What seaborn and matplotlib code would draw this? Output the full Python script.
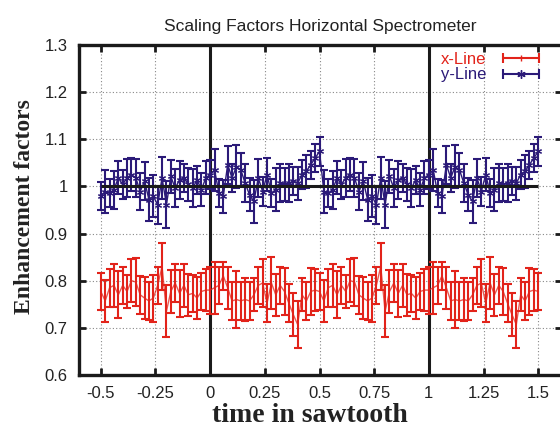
import numpy as np
import pandas as pd
import matplotlib
matplotlib.use("Agg")
import matplotlib.pyplot as plt
from matplotlib.lines import Line2D
from matplotlib.legend_handler import HandlerLine2D, HandlerTuple
from matplotlib.ticker import FormatStrFormatter, MultipleLocator
import seaborn as sns

# time in sawtooth, step 0.02 from -0.5 to 1.5
time = np.round(np.arange(101) * 0.02 - 0.5, 2)

# one sawtooth period (t = 0.00 ... 0.98), the chart repeats it
y_period = [1.025, 1.035, 0.986, 0.979, 1.046, 1.018, 1.042, 1.035, 1.007, 0.982,
            0.968, 1.018, 0.989, 1.025, 0.986, 0.993, 1.007, 1.004, 1.007, 1.011,
            1.007, 1.025, 1.032, 1.046, 1.060, 1.074, 0.989, 0.986, 0.993, 1.018,
            1.004, 1.018, 1.025, 1.018, 0.989, 1.011, 0.972, 0.979, 0.961, 1.018,
            0.961, 1.021, 0.996, 1.014, 1.018, 1.004, 0.996, 1.014, 0.993, 1.018]
y_err_period = [0.030, 0.045, 0.030, 0.035, 0.040, 0.030, 0.045, 0.035, 0.040, 0.035,
                0.045, 0.040, 0.030, 0.035, 0.030, 0.045, 0.040, 0.035, 0.040, 0.030,
                0.035, 0.030, 0.035, 0.030, 0.030, 0.030, 0.045, 0.030, 0.040, 0.035,
                0.030, 0.040, 0.035, 0.040, 0.040, 0.040, 0.045, 0.045, 0.040, 0.045,
                0.050, 0.035, 0.040, 0.040, 0.030, 0.035, 0.040, 0.030, 0.035, 0.035]
x_period = [0.780, 0.785, 0.790, 0.810, 0.785, 0.757, 0.760, 0.757, 0.760, 0.757,
            0.770, 0.790, 0.795, 0.752, 0.795, 0.770, 0.790, 0.777, 0.752, 0.728,
            0.707, 0.770, 0.757, 0.777, 0.780, 0.777, 0.757, 0.785, 0.790, 0.770,
            0.790, 0.777, 0.800, 0.797, 0.770, 0.763, 0.757, 0.763, 0.790, 0.830,
            0.735, 0.777, 0.795, 0.773, 0.790, 0.770, 0.773, 0.763, 0.777, 0.780]
x_err_period = [0.050, 0.055, 0.040, 0.030, 0.045, 0.040, 0.060, 0.040, 0.045, 0.040,
                0.035, 0.040, 0.050, 0.040, 0.055, 0.045, 0.040, 0.050, 0.040, 0.045,
                0.050, 0.035, 0.040, 0.050, 0.045, 0.040, 0.045, 0.040, 0.045, 0.050,
                0.040, 0.035, 0.045, 0.050, 0.040, 0.045, 0.040, 0.050, 0.040, 0.050,
                0.055, 0.045, 0.040, 0.050, 0.045, 0.045, 0.040, 0.045, 0.040, 0.045]


def unfold(period):
    period = list(period)
    return period[25:] + period + period[:26]


y_line = unfold(y_period)
y_line[0] = 0.980
y_err = unfold(y_err_period)
x_line = unfold(x_period)
x_err = unfold(x_err_period)

df = pd.DataFrame({"time": time, "x-Line": x_line, "y-Line": y_line})

red = "#e2231a"
blue = "#2b1a78"
star = (6, 2, 0)

sns.set_style("ticks")
plt.rcParams["font.family"] = ["Liberation Sans", "DejaVu Sans"]
plt.rcParams["axes.unicode_minus"] = False

fig = plt.figure(figsize=(5.6, 4.28), dpi=100)
ax = fig.add_axes([0.141, 0.124, 0.863, 0.771])

ax.grid(True, color="#888888", linestyle=(0, (1, 2)), linewidth=0.8)
ax.set_axisbelow(True)

# reference lines
ax.axvline(0, color="#1a1a1a", lw=2.2, zorder=1)
ax.axvline(1, color="#1a1a1a", lw=2.2, zorder=1)
ax.hlines(1.0, -0.5, 1.5, color="#1a1a1a", lw=2.2, zorder=3)

sns.lineplot(data=df, x="time", y="x-Line", ax=ax, color=red, lw=1.0, alpha=0.75,
             zorder=2, legend=False)
sns.lineplot(data=df, x="time", y="y-Line", ax=ax, color=blue, lw=1.0, marker=star,
             markersize=5, markeredgecolor=blue, markeredgewidth=0.8, zorder=2, legend=False)
ax.errorbar(df["time"], df["x-Line"], yerr=x_err, fmt="none", ecolor=red,
            elinewidth=1.5, capsize=3, capthick=1.5, zorder=2)
ax.errorbar(df["time"], df["y-Line"], yerr=y_err, fmt="none", ecolor=blue,
            elinewidth=1.5, capsize=3, capthick=1.5, zorder=2)

ax.set_xlim(-0.6, 1.61)
ax.set_ylim(0.6, 1.3)
ax.xaxis.set_major_locator(MultipleLocator(0.25))
ax.yaxis.set_major_locator(MultipleLocator(0.1))
ax.xaxis.set_major_formatter(FormatStrFormatter("%g"))
ax.yaxis.set_major_formatter(FormatStrFormatter("%g"))
ax.tick_params(direction="in", length=5, width=2, labelsize=12, pad=8,
               top=True, right=True, colors="#1a1a1a", labelcolor="#222222")
for s in ax.spines.values():
    s.set_linewidth(2.4)
    s.set_color("#1a1a1a")

ax.set_title("Scaling Factors Horizontal Spectrometer", fontsize=12.5, pad=10, color="#222222")
ax.set_xlabel("time in sawtooth", fontsize=20, fontweight="bold",
              family="Liberation Serif", color="#222222")
ax.xaxis.set_label_coords(0.478, -0.085, transform=ax.transAxes)
ax.xaxis.label.set_va("top")
ax.set_ylabel("Enhancement factors", fontsize=17, fontweight="bold",
              family="Liberation Serif", color="#222222")
ax.yaxis.set_label_coords(-0.112, 0.51, transform=ax.transAxes)
ax.yaxis.label.set_va("center")

# gnuplot style legend keys: bar with caps at both ends, point in the middle
cap_x = Line2D([], [], color=red, lw=1.5, marker="|", markersize=7, markeredgewidth=1.5)
pt_x = Line2D([], [], color=red, ls="none", marker="|", markersize=4, markeredgewidth=1)
cap_y = Line2D([], [], color=blue, lw=1.5, marker="|", markersize=7, markeredgewidth=1.5)
pt_y = Line2D([], [], color=blue, ls="none", marker=star, markersize=6, markeredgewidth=1)
hmap = {cap_x: HandlerLine2D(numpoints=2), cap_y: HandlerLine2D(numpoints=2),
        pt_x: HandlerLine2D(numpoints=1), pt_y: HandlerLine2D(numpoints=1),
        tuple: HandlerTuple(ndivide=1, pad=0)}
leg = ax.legend(handles=[(cap_x, pt_x), (cap_y, pt_y)], labels=["x-Line", "y-Line"],
                handler_map=hmap, loc="upper right", bbox_to_anchor=(0.977, 1.0),
                frameon=False, fontsize=12, markerfirst=False, handlelength=2.8,
                labelcolor=[red, blue], borderaxespad=0, borderpad=0.4,
                handletextpad=0.7, labelspacing=0.05)

fig.savefig("out.png", dpi=100)
